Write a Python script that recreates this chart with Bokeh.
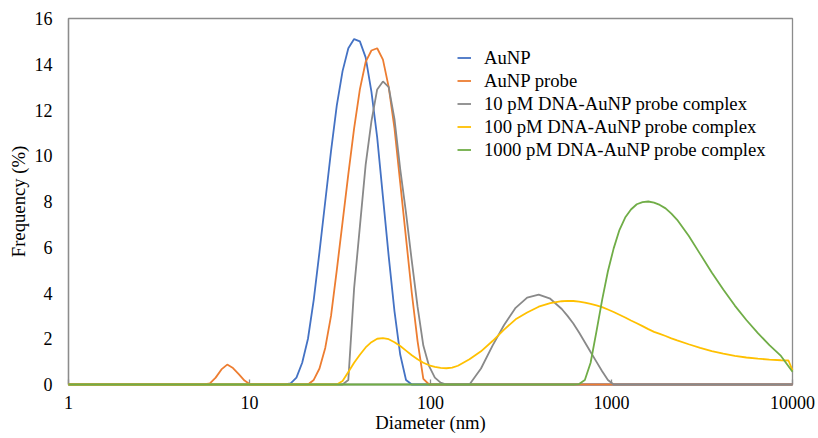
from bokeh.plotting import figure
from bokeh.models import Legend, LegendItem, FixedTicker, Range1d, NumeralTickFormatter
from bokeh.embed import file_html
from bokeh.resources import INLINE

# AuNP
aunp_d = [1, 15.69, 16.88, 18.17, 19.55, 21.04, 22.64, 24.36, 26.21, 28.21, 30.36,
          32.67, 35.16, 37.84, 40.72, 43.82, 47.16, 50.75, 54.61, 58.77, 63.25,
          68.06, 73.24, 78.82, 10000]
aunp = [0, 0, 0.05, 0.3, 0.95, 2.0, 3.7, 5.8, 8.0, 10.2, 12.2,
        13.7, 14.7, 15.1, 15.0, 14.3, 12.8, 10.8, 8.2, 5.6, 3.2,
        1.3, 0.2, 0, 0]

# AuNP probe
probe_d = [1, 5.615, 6.043, 6.503, 6.998, 7.531, 8.104, 8.721, 9.385, 10.10,
           21.04, 22.64, 24.36, 26.21, 28.21, 30.36, 32.67, 35.16, 37.84, 40.72,
           43.82, 47.16, 50.75, 54.61, 58.77, 63.25, 68.06, 73.24, 78.82, 84.82,
           91.28, 98.23, 10000]
probe = [0, 0, 0.05, 0.3, 0.66, 0.87, 0.72, 0.45, 0.17, 0,
         0, 0.2, 0.7, 1.6, 3.0, 5.0, 7.1, 9.2, 11.2, 12.9,
         14.1, 14.6, 14.7, 14.2, 13.0, 11.2, 8.8, 6.4, 4.0, 1.9,
         0.25, 0, 0]

# 10 pM DNA-AuNP probe complex
c10_d = [1, 32.67, 35.16, 37.84, 40.72, 43.82, 47.16, 50.75, 54.61, 58.77,
         63.25, 68.06, 73.24, 78.82, 84.82, 91.28, 98.23, 105.7, 113.7, 122.4,
         164.2, 190.1, 220.2, 255.0, 295.3, 342.0, 396.1, 458.7,
         531.2, 571.6, 615.1, 662.0, 712.4, 766.6, 825.0, 887.8, 955.4, 1028,
         10000]
c10 = [0, 0, 0.2, 4.2, 6.9, 9.6, 11.5, 12.9, 13.25, 13.0,
       11.6, 9.4, 7.5, 5.4, 3.4, 1.7, 0.8, 0.3, 0.08, 0,
       0, 0.7, 1.7, 2.6, 3.35, 3.8, 3.93, 3.75,
       3.3, 3.0, 2.67, 2.27, 1.85, 1.42, 1.0, 0.58, 0.2, 0,
       0]

# 100 pM DNA-AuNP probe complex
c100_d = [1, 30.36, 32.67, 35.16, 37.84, 40.72, 43.82, 47.16, 50.75, 54.61,
          58.77, 63.25, 68.06, 73.24, 78.82, 84.82, 91.28, 98.23, 105.7, 113.7,
          122.4, 131.7, 141.8, 164.2, 190.1, 220.2, 255.0, 295.3, 342.0, 396.1,
          458.7, 531.2, 571.6, 615.1, 662.0, 712.4, 766.6, 825.0, 887.8, 955.4,
          1028, 1106, 1190, 1281, 1379, 1484, 1597, 1718, 1849, 1990,
          2142, 2305, 2669, 3091, 3580, 4145, 4801, 5560, 6439, 7456,
          8635, 9500, 10000]
c100 = [0, 0, 0.15, 0.55, 0.95, 1.3, 1.62, 1.85, 2.0, 2.03,
        1.98, 1.85, 1.68, 1.48, 1.28, 1.1, 0.95, 0.84, 0.77, 0.73,
        0.71, 0.74, 0.82, 1.1, 1.45, 1.9, 2.4, 2.85, 3.15, 3.4,
        3.56, 3.64, 3.655, 3.65, 3.62, 3.58, 3.52, 3.46, 3.38, 3.28,
        3.17, 3.05, 2.93, 2.8, 2.68, 2.55, 2.42, 2.3, 2.21, 2.12,
        2.02, 1.93, 1.76, 1.6, 1.46, 1.35, 1.25, 1.18, 1.13, 1.09,
        1.06, 1.05, 0.62]

# 1000 pM DNA-AuNP probe complex
c1000_d = [1, 615.1, 662.0, 712.4, 766.6, 825.0, 887.8, 955.4, 1028, 1106,
           1190, 1281, 1379, 1484, 1597, 1718, 1849, 1990, 2142, 2305,
           2669, 3091, 3580, 4145, 4801, 5560, 6439, 7456, 8635, 10000]
c1000 = [0, 0, 0.02, 0.2, 0.95, 2.3, 3.7, 4.95, 5.95, 6.75,
         7.3, 7.65, 7.88, 7.97, 8.0, 7.95, 7.85, 7.7, 7.47, 7.2,
         6.5, 5.7, 4.9, 4.15, 3.45, 2.82, 2.25, 1.72, 1.25, 0.56]

series_names = ["AuNP", "AuNP probe", "10 pM DNA-AuNP probe complex",
                "100 pM DNA-AuNP probe complex", "1000 pM DNA-AuNP probe complex"]
series_x = [aunp_d, probe_d, c10_d, c100_d, c1000_d]
series_y = [aunp, probe, c10, c100, c1000]
series_colors = ["#4472C4", "#ED7D31", "#898989", "#FFC000", "#70AD47"]

x_ticks = [1, 10, 100, 1000, 10000]
y_ticks = [0, 2, 4, 6, 8, 10, 12, 14, 16]

FONT = "Liberation Serif"
FRAME = "#8c8c8c"

p = figure(width=816, height=436, x_axis_type="log",
           x_range=Range1d(1, 10000), y_range=Range1d(0, 16),
           output_backend="svg", toolbar_location=None,
           min_border_left=68, min_border_right=24,
           min_border_top=18, min_border_bottom=52)

p.xgrid.grid_line_color = None
p.ygrid.grid_line_color = None
p.outline_line_color = FRAME
p.outline_line_width = 1.3
p.background_fill_color = "white"
p.border_fill_color = "white"

items = []
for name, xs, ys, col in zip(series_names, series_x, series_y, series_colors):
    r = p.line(xs, ys, line_color=col, line_width=1.8, level="overlay")
    items.append(LegendItem(label=name, renderers=[r]))

xa = p.xaxis[0]
xa.ticker = FixedTicker(ticks=x_ticks, minor_ticks=[])
xa.formatter = NumeralTickFormatter(format="0")
xa.axis_label = "Diameter (nm)"
xa.major_tick_in = 5
xa.major_tick_out = 0
xa.minor_tick_in = 0
xa.minor_tick_out = 0
xa.major_tick_line_color = FRAME
xa.major_tick_line_width = 1.3
xa.axis_line_color = FRAME
xa.axis_line_width = 1.3
xa.major_label_standoff = 11
xa.axis_label_standoff = 0

ya = p.yaxis[0]
ya.ticker = FixedTicker(ticks=y_ticks, minor_ticks=[])
ya.axis_label = "Frequency (%)"
ya.major_tick_in = 0
ya.major_tick_out = 0
ya.minor_tick_in = 0
ya.minor_tick_out = 0
ya.axis_line_color = FRAME
ya.axis_line_width = 1.3
ya.major_label_standoff = 16
ya.axis_label_standoff = 3

for ax in (xa, ya):
    ax.major_label_text_font = FONT
    ax.major_label_text_font_size = "18px"
    ax.major_label_text_color = "black"
    ax.axis_label_text_font = FONT
    ax.axis_label_text_font_size = "18.7px"
    ax.axis_label_text_font_style = "normal"
    ax.axis_label_text_color = "black"

legend = Legend(items=items, location=(389, 223),
                border_line_color=None, background_fill_alpha=0,
                padding=0, margin=0, spacing=0,
                glyph_width=14, glyph_height=23, label_height=23,
                label_standoff=13,
                label_text_font=FONT, label_text_font_size="18.7px",
                label_text_color="black")
p.add_layout(legend)

open("out.html", "w").write(file_html(p, INLINE))
